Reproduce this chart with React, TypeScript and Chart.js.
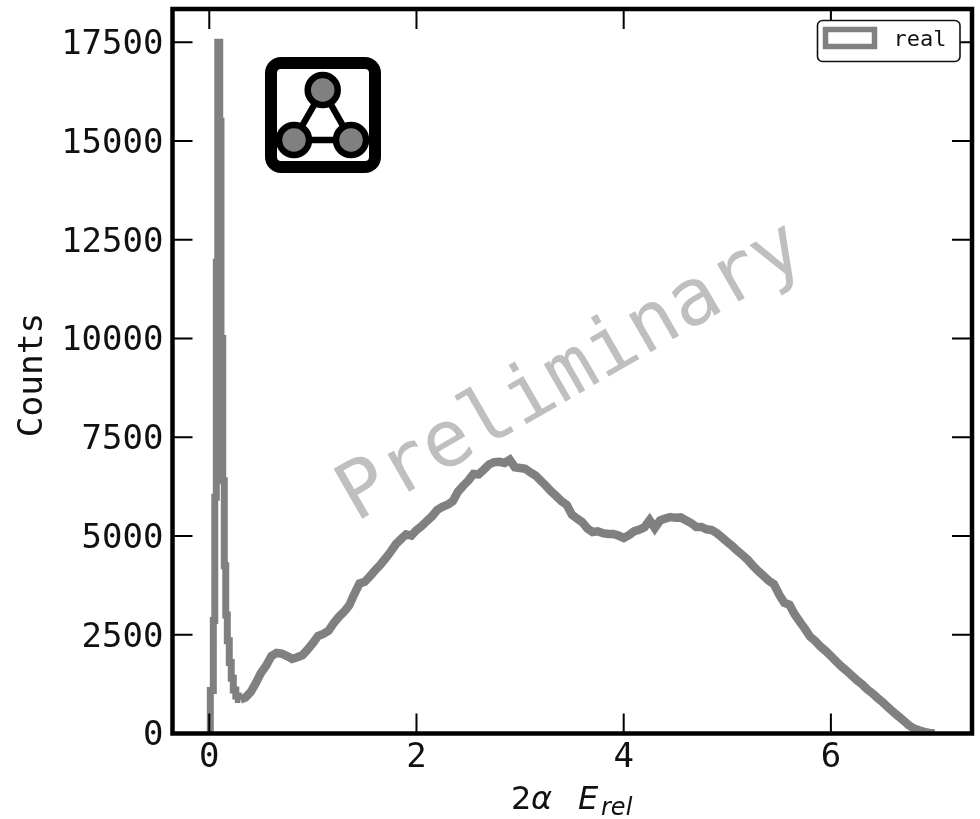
import React, { useEffect, useRef } from "react";
import { Chart, registerables } from "chart.js";

Chart.register(...registerables);

const seriesLabel = "real";
const yAxisLabel = "Counts";
const xAxisTicks = [0, 2, 4, 6];
const yAxisTicks = [0, 2500, 5000, 7500, 10000, 12500, 15000, 17500];

const peakEdges = [0.01, 0.01, 0.039, 0.053, 0.068, 0.082, 0.101, 0.113, 0.13, 0.145, 0.159, 0.174, 0.193, 0.212, 0.232, 0.256, 0.28, 0.3];
const peakCounts = [0, 1090, 2860, 5980, 11930, 17500, 15500, 10000, 6400, 4250, 3000, 2350, 1800, 1400, 1100, 950, 860, 860];

const bodyEdges = [
  0.3, 0.35, 0.4, 0.45, 0.5, 0.55, 0.6, 0.65, 0.7, 0.75, 0.8, 0.85, 0.9, 0.95,
  1.0, 1.05, 1.1, 1.15, 1.2, 1.25, 1.3, 1.35, 1.4, 1.45, 1.5, 1.55, 1.6, 1.65, 1.7, 1.75, 1.8, 1.85, 1.9, 1.95,
  2.0, 2.05, 2.1, 2.15, 2.2, 2.25, 2.3, 2.35, 2.4, 2.45, 2.5, 2.55, 2.6, 2.65, 2.7, 2.75, 2.8, 2.85, 2.9, 2.95,
  3.0, 3.05, 3.1, 3.15, 3.2, 3.25, 3.3, 3.35, 3.4, 3.45, 3.5, 3.55, 3.6, 3.65, 3.7, 3.75, 3.8, 3.85, 3.9, 3.95,
  4.0, 4.05, 4.1, 4.15, 4.2, 4.25, 4.3, 4.35, 4.4, 4.45, 4.5, 4.55, 4.6, 4.65, 4.7, 4.75, 4.8, 4.85, 4.9, 4.95,
  5.0, 5.05, 5.1, 5.15, 5.2, 5.25, 5.3, 5.35, 5.4, 5.45, 5.5, 5.55, 5.6, 5.65, 5.7, 5.75, 5.8, 5.85, 5.9, 5.95,
  6.0, 6.05, 6.1, 6.15, 6.2, 6.25, 6.3, 6.35, 6.4, 6.45, 6.5, 6.55, 6.6, 6.65, 6.7, 6.75, 6.8, 6.85, 6.9, 6.95, 7.0,
];
const bodyCounts = [
  860, 915, 1050, 1280, 1540, 1720, 1960, 2040, 2020, 1960, 1890, 1930, 1985, 2130,
  2290, 2470, 2520, 2600, 2790, 2950, 3080, 3240, 3530, 3800, 3840, 3980, 4130, 4270, 4430, 4600, 4790, 4920, 5040, 5010,
  5150, 5250, 5380, 5500, 5660, 5740, 5790, 5880, 6120, 6270, 6400, 6570, 6560, 6680, 6810, 6870, 6880, 6850, 6930, 6740,
  6720, 6700, 6610, 6530, 6400, 6270, 6130, 6010, 5880, 5790, 5540, 5440, 5350, 5190, 5100, 5120, 5070, 5050, 5050, 5010,
  4950, 5020, 5120, 5160, 5220, 5400, 5200, 5390, 5440, 5480, 5460, 5470, 5400, 5330, 5230, 5230, 5170, 5150, 5070, 4960,
  4850, 4740, 4620, 4510, 4390, 4240, 4110, 3990, 3870, 3780, 3520, 3310, 3260, 3020, 2830, 2650, 2450, 2340, 2200, 2090,
  1960, 1830, 1700, 1590, 1470, 1350, 1250, 1120, 1020, 900, 790, 670, 550, 440, 330, 210, 130, 80, 40, 15, 0,
];

const MONO = '"DejaVu Sans Mono", monospace';
const SANS = '"DejaVu Sans", sans-serif';
const GRAY = "#808080";
const BLACK = "#000000";

const decorations = {
  id: "decorations",
  afterDraw(chart: any) {
    const { ctx, chartArea: a, scales } = chart;
    const { left, right, top, bottom } = a;
    ctx.save();

    ctx.strokeStyle = BLACK;
    ctx.lineWidth = 2;
    ctx.lineCap = "butt";
    const tick = 20;
    ctx.beginPath();
    for (const v of xAxisTicks) {
      const x = scales.x.getPixelForValue(v);
      ctx.moveTo(x, bottom);
      ctx.lineTo(x, bottom - tick);
      ctx.moveTo(x, top);
      ctx.lineTo(x, top + tick);
    }
    for (const v of yAxisTicks) {
      const y = scales.y.getPixelForValue(v);
      ctx.moveTo(left, y);
      ctx.lineTo(left + tick, y);
      ctx.moveTo(right, y);
      ctx.lineTo(right - tick, y);
    }
    ctx.stroke();

    ctx.lineWidth = 4.5;
    ctx.lineJoin = "miter";
    ctx.strokeRect(left, top, right - left, bottom - top);

    ctx.save();
    ctx.translate(572, 374);
    ctx.rotate((-30 * Math.PI) / 180);
    ctx.font = `79px ${MONO}`;
    ctx.fillStyle = "rgba(128,128,128,0.5)";
    ctx.textAlign = "center";
    ctx.textBaseline = "middle";
    ctx.fillText("Preliminary", 0, 0);
    ctx.restore();

    ctx.save();
    ctx.translate(33, 375);
    ctx.rotate(-Math.PI / 2);
    ctx.font = `34.5px ${MONO}`;
    ctx.fillStyle = "#111111";
    ctx.textAlign = "center";
    ctx.textBaseline = "middle";
    ctx.fillText(yAxisLabel, 0, 0);
    ctx.restore();

    ctx.beginPath();
    ctx.roundRect(817.5, 20.5, 142.5, 41, 5);
    ctx.fillStyle = "#ffffff";
    ctx.fill();
    ctx.lineWidth = 1.6;
    ctx.strokeStyle = "#111111";
    ctx.stroke();
    ctx.strokeStyle = GRAY;
    ctx.lineWidth = 5.5;
    ctx.strokeRect(825.5, 29.5, 49, 17);
    ctx.font = `22px ${MONO}`;
    ctx.fillStyle = "#111111";
    ctx.textAlign = "left";
    ctx.textBaseline = "alphabetic";
    ctx.fillText(seriesLabel, 893.5, 46);

    ctx.fillStyle = "#111111";
    ctx.font = `32px ${SANS}`;
    ctx.fillText("2", 511, 809);
    ctx.font = `italic 32px ${SANS}`;
    ctx.fillText("\u03b1", 531, 809);
    ctx.fillText("E", 578, 809);
    ctx.font = `italic 24px ${SANS}`;
    ctx.fillText("rel", 601, 815);

    ctx.strokeStyle = BLACK;
    ctx.lineWidth = 12;
    ctx.beginPath();
    ctx.roundRect(271, 63, 104, 104, 10);
    ctx.stroke();
    const nodes = [
      [322.7, 90],
      [294, 140],
      [351, 140],
    ];
    ctx.lineWidth = 6.5;
    ctx.beginPath();
    ctx.moveTo(nodes[0][0], nodes[0][1]);
    ctx.lineTo(nodes[1][0], nodes[1][1]);
    ctx.lineTo(nodes[2][0], nodes[2][1]);
    ctx.closePath();
    ctx.stroke();
    ctx.fillStyle = GRAY;
    for (const [cx, cy] of nodes) {
      ctx.beginPath();
      ctx.arc(cx, cy, 15, 0, Math.PI * 2);
      ctx.fill();
      ctx.stroke();
    }
    ctx.restore();
  },
};

export default function App() {
  const ref = useRef<HTMLCanvasElement | null>(null);
  useEffect(() => {
    if (!ref.current) return;
    const common = {
      borderColor: GRAY,
      backgroundColor: "transparent",
      pointRadius: 0,
      fill: false,
      borderCapStyle: "butt",
    };
    const chart = new Chart(ref.current, {
      type: "line",
      data: {
        datasets: [
          {
            ...common,
            label: seriesLabel,
            data: peakEdges.map((x, i) => ({ x, y: peakCounts[i] })),
            borderWidth: 7,
            stepped: "before",
            borderJoinStyle: "miter",
          },
          {
            ...common,
            label: seriesLabel,
            data: bodyEdges.map((x, i) => ({ x, y: bodyCounts[i] })),
            borderWidth: 8.5,
            borderJoinStyle: "miter",
          },
        ],
      },
      options: {
        responsive: false,
        animation: false,
        layout: { padding: { top: 9, right: 8, left: 0, bottom: 0 } },
        plugins: { legend: { display: false }, tooltip: { enabled: false } },
        scales: {
          x: {
            type: "linear",
            min: -0.355,
            max: 7.362,
            afterFit: (s: any) => {
              s.height = 85.5;
              s.paddingLeft = 0;
              s.paddingRight = 0;
            },
            afterBuildTicks: (s: any) => {
              s.ticks = xAxisTicks.map((value) => ({ value }));
            },
            border: { display: false },
            grid: { display: false, drawTicks: false },
            ticks: {
              maxRotation: 0,
              autoSkip: false,
              padding: 4,
              color: "#111111",
              font: { family: MONO, size: 34 },
            },
          },
          y: {
            type: "linear",
            min: 0,
            max: 18342,
            afterFit: (s: any) => {
              s.width = 172.5;
              s.paddingTop = 0;
              s.paddingBottom = 0;
            },
            afterBuildTicks: (s: any) => {
              s.ticks = yAxisTicks.map((value) => ({ value }));
            },
            border: { display: false },
            grid: { display: false, drawTicks: false },
            ticks: {
              autoSkip: false,
              padding: 9,
              labelOffset: 3,
              color: "#111111",
              font: { family: MONO, size: 34 },
              callback: (v: any) => String(v),
            },
          },
        },
      },
      plugins: [decorations],
    } as any);
    return () => chart.destroy();
  }, []);
  return (
    <canvas
      ref={ref}
      width={980}
      height={819}
      style={{ position: "fixed", left: 0, top: 0, width: 980, height: 819, display: "block", background: "#fff" }}
    />
  );
}
